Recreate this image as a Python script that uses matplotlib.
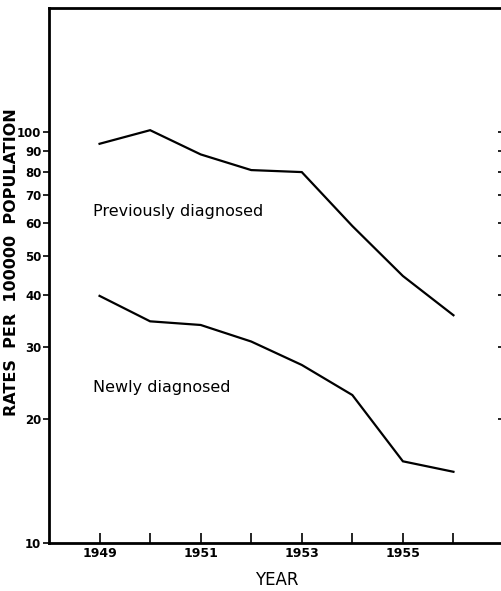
import numpy as np
import matplotlib
matplotlib.use("Agg")
import matplotlib.pyplot as plt
from matplotlib.ticker import FixedLocator, NullLocator

# ── data ─────────────────────────────────────────────────────────────────────
years = [1949, 1950, 1951, 1952, 1953, 1954, 1955, 1956]
previously = [93.5, 100.9, 88.1, 80.7, 79.8, 59.0, 44.6, 35.8]
newly = [39.9, 34.6, 33.9, 30.9, 27.1, 22.9, 15.8, 14.9]

y_ticks = [10, 20, 30, 40, 50, 60, 70, 80, 90, 100]
y_ticks_right = [20, 30, 40, 50, 60, 70, 80, 90, 100]
x_labels = {1949: "1949", 1951: "1951", 1953: "1953", 1955: "1955"}

# ── figure ───────────────────────────────────────────────────────────────────
W, H = 502, 591
fig = plt.figure(figsize=(W / 100, H / 100), dpi=100)
ax = fig.add_axes([49 / W, (H - 543) / H, 455 / W, 535 / H])

ax.plot(years, previously, color="black", lw=1.6, solid_joinstyle="miter")
ax.plot(years, newly, color="black", lw=1.6, solid_joinstyle="miter")

ax.set_yscale("log")
ax.set_ylim(10, 200)
ax.set_xlim(1948, 1957)

# left axis: outward ticks with labels
ax.yaxis.set_major_locator(FixedLocator(y_ticks))
ax.yaxis.set_minor_locator(NullLocator())
ax.set_yticklabels([str(v) for v in y_ticks], fontsize=8.5, fontweight="bold")
ax.tick_params(axis="y", direction="out", length=4, width=1.2, pad=1.5)

# right axis: short inward ticks only
axr = ax.twinx()
axr.set_yscale("log")
axr.set_ylim(10, 200)
axr.yaxis.set_major_locator(FixedLocator(y_ticks_right))
axr.yaxis.set_minor_locator(NullLocator())
axr.set_yticklabels([])
axr.tick_params(axis="y", direction="in", length=4, width=1.2)
for s in axr.spines.values():
    s.set_visible(False)

# x axis: inward ticks every year, labels on odd years
ax.set_xticks(years)
ax.set_xticklabels([x_labels.get(y, "") for y in years],
                   fontsize=9, fontweight="bold")
ax.tick_params(axis="x", direction="in", length=7, width=1.2, pad=3)

for side in ("left", "bottom", "top"):
    ax.spines[side].set_linewidth(2)
ax.spines["right"].set_visible(False)

ax.set_xlabel("YEAR", fontsize=12)
ax.xaxis.set_label_coords((277 - 49) / 455, -(580 - 543) / 535)
ax.xaxis.label.set_va("center")
ax.set_ylabel("RATES  PER  100000  POPULATION", fontsize=11.5, fontweight="bold")
ax.yaxis.set_label_coords((19 - 49) / 455, (543 - 262) / 535)

ax.text(1948.88, 64, "Previously diagnosed", fontsize=11.5, va="center")
ax.text(1948.88, 23.9, "Newly diagnosed", fontsize=11.5, va="center")

fig.savefig("out.png", dpi=100)
